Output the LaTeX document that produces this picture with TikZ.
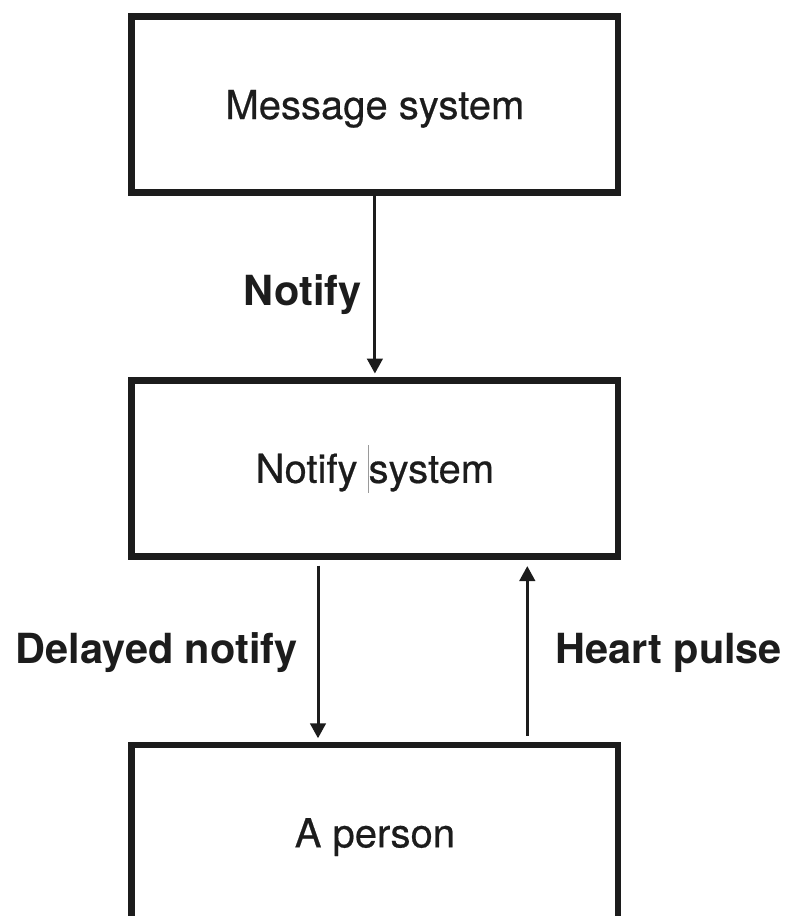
\documentclass[tikz,border=0pt]{standalone}
\usepackage{fontspec}
\setmainfont{TeX Gyre Heros}
% slightly heavier upright face for the box titles
\newfontfamily\boxfont{TeX Gyre Heros}[FakeBold=0.5]
\usetikzlibrary{arrows.meta}
\definecolor{ink}{HTML}{1C1C1C}
\definecolor{caret}{HTML}{9A9A9A}
\begin{document}
\begin{tikzpicture}[x=1pt,y=-1pt,
  box/.style={draw=ink, line width=6.8pt, minimum width=486.3pt, minimum height=176pt,
    inner sep=0pt, text height=28.7pt, text depth=0pt,
    font=\boxfont\fontsize{40}{48}\selectfont, text=ink},
  lbl/.style={inner sep=0pt, font=\fontsize{41.5}{50}\selectfont\bfseries, text=ink},
  arr/.style={draw=ink, line width=3pt, -{Triangle[length=15pt, width=15.5pt]}}]
% page frame; the lowest box runs off the bottom edge
\clip (0,0) rectangle (787,916);

% the three boxes
\node[box] (msg) at (374.9,104.7) {Message system};
\node[box, minimum height=175.5pt] (ntf) at (374.9,468.5)
  {Notify \makebox[0pt]{\color{caret}\rule[-10pt]{1.2pt}{48.3pt}}system};
\node[box] (person) at (374.9,833) {A person};

% connectors
\draw[arr] (msg.south) -- ([yshift=3.8pt]ntf.north);
\draw[arr] ([xshift=-56.9pt,yshift=-6pt]ntf.south) -- ([xshift=-56.9pt,yshift=3.3pt]person.north);
\draw[arr] ([xshift=152.4pt,yshift=5.7pt]person.north) -- ([xshift=152.4pt,yshift=-6.4pt]ntf.south);

% connector labels
\node[lbl, anchor=base east] (lnotify) at (361.7,305) {Notify};
\node[lbl, anchor=base east] (ldelay) at (297.7,663.3) {Delayed notify};
\node[lbl, anchor=base west] (lheart) at (555,663.3) {Heart pulse};
\end{tikzpicture}
\end{document}
